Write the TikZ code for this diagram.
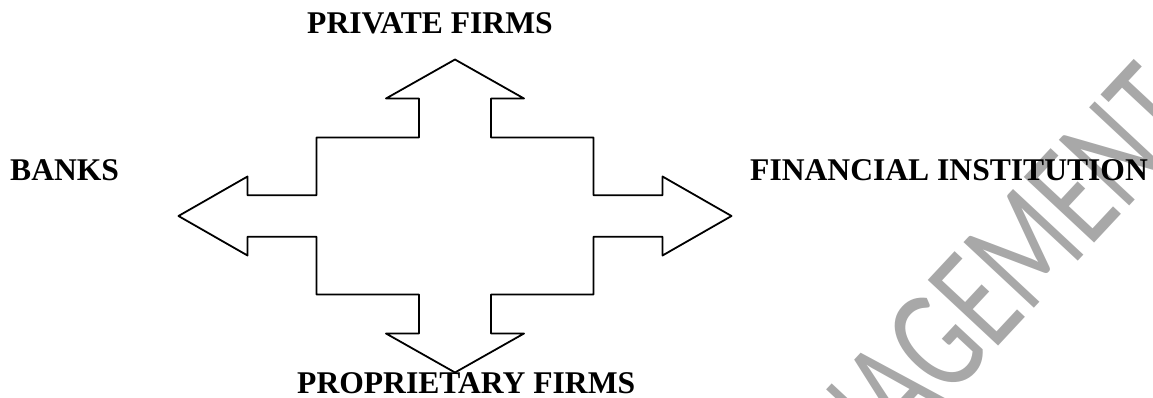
\documentclass[tikz,border=0pt]{standalone}
\usepackage{fontspec}
\setmainfont{Liberation Serif}
\newfontfamily\wmfont{Carlito}
\definecolor{wmgray}{RGB}{168,168,168}

\begin{document}
\begin{tikzpicture}[x=1pt,y=-1pt,
  outline/.style={draw=black, line width=1.8pt, line join=round, fill=white},
  label/.style={font=\fontsize{31.6}{36}\selectfont\bfseries, inner sep=0pt, anchor=base west},
  watermark/.style={font=\wmfont\fontsize{150}{150}\selectfont, text=wmgray,
    inner sep=0pt, anchor=base, rotate=47, xscale=0.7}]
\useasboundingbox (0,0) rectangle (1153,398);

% background watermark, cut at the page edge
\begin{scope}
  \clip (0,0) rectangle (1153,398);
  \node[watermark] (wm) at (982,364) {MANAGEMENT};
\end{scope}

% four-way arrow outline
\draw[outline]
  (455,59.5) -- (524,98.5) -- (491,98.5) -- (491,137.5) -- (593.5,137.5)
  -- (593.5,195.3) -- (662.5,195.3) -- (662.5,176.5) -- (731.5,216)
  -- (662.5,255.5) -- (662.5,236.7) -- (593.5,236.7) -- (593.5,294.5)
  -- (491,294.5) -- (491,333.5) -- (524,333.5) -- (455,372.5)
  -- (386,333.5) -- (419,333.5) -- (419,294.5) -- (316.5,294.5)
  -- (316.5,236.7) -- (247.5,236.7) -- (247.5,255.5) -- (178.5,216)
  -- (247.5,176.5) -- (247.5,195.3) -- (316.5,195.3) -- (316.5,137.5)
  -- (419,137.5) -- (419,98.5) -- (386,98.5) -- cycle;

% labels
\node[label] (private) at (307,33.3) {PRIVATE FIRMS};
\node[label] (banks) at (10,181) {BANKS};
\node[label] (fin) at (750,181) {FINANCIAL INSTITUTION};
\node[label] (prop) at (297,393.3) {PROPRIETARY FIRMS};
\end{tikzpicture}
\end{document}
